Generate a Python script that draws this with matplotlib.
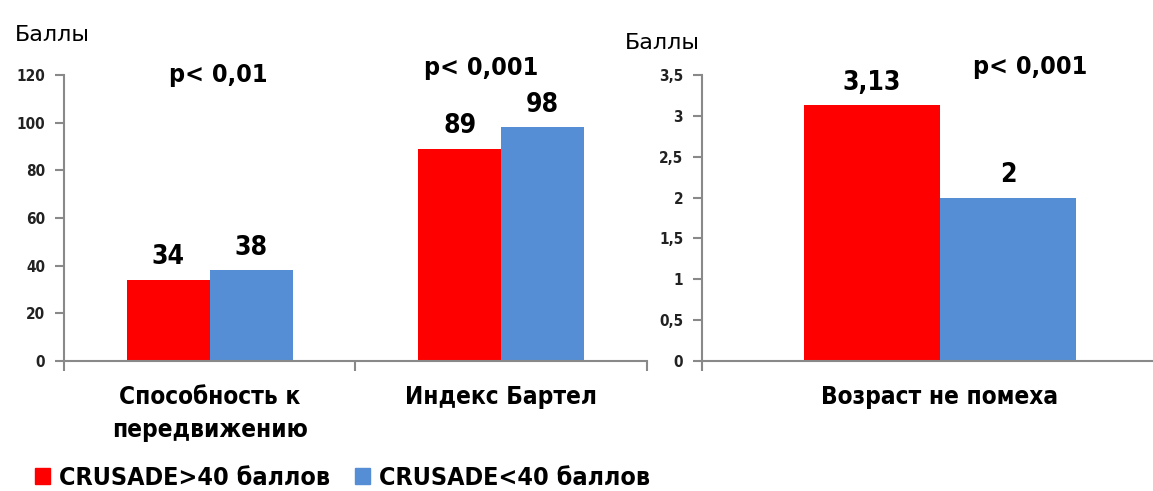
import matplotlib
matplotlib.use("Agg")
import matplotlib.pyplot as plt
from matplotlib import patches as mpatches

RED, BLUE, AXIS = "#FF0000", "#558ED5", "#898989"

plt.rcParams["font.family"] = ["DejaVu Sans"]
plt.rcParams["font.stretch"] = "condensed"

# --- data ---------------------------------------------------------------
left_cats = ["Способность к\nпередвижению", "Индекс Бартел"]
left_high = [34, 89]      # CRUSADE>40
left_low = [38, 98]       # CRUSADE<40
left_p = ["p< 0,01", "p< 0,001"]

right_cats = ["Возраст не помеха"]
right_high = [3.13]
right_low = [2]
right_p = ["p< 0,001"]

series_names = ["CRUSADE>40 баллов", "CRUSADE<40 баллов"]
left_yticks = [0, 20, 40, 60, 80, 100, 120]
right_yticks = [0, 0.5, 1, 1.5, 2, 2.5, 3, 3.5]

W, H = 1153, 491
TOP, BOT = 75, 361
fig = plt.figure(figsize=(W / 100, H / 100), dpi=100)


def fmt(v):
    return f"{v:g}".replace(".", ",")


def style_axes(ax, yticks, ylabels):
    for s in ("top", "right"):
        ax.spines[s].set_visible(False)
    for s in ("left", "bottom"):
        ax.spines[s].set_color(AXIS)
        ax.spines[s].set_linewidth(1.5)
    ax.set_yticks(yticks, ylabels)
    ax.tick_params(axis="y", direction="out", length=6.5, width=1.5,
                   color=AXIS, labelsize=11, labelcolor="#222222", pad=7)
    ax.tick_params(axis="x", which="major", direction="out", length=7,
                   width=1.5, color=AXIS, labelbottom=False)
    ax.tick_params(axis="x", which="minor", length=0, labelsize=17.5, pad=17)
    for lbl in ax.get_xticklabels(minor=True):
        lbl.set_fontweight("bold")
        lbl.set_linespacing(1.5)
    for lbl in ax.get_yticklabels():
        lbl.set_fontweight("bold")


def draw_group(ax, cats, high, low, width):
    x = list(range(len(cats)))
    b1 = ax.bar([i - width / 2 for i in x], high, width, color=RED)
    b2 = ax.bar([i + width / 2 for i in x], low, width, color=BLUE)
    for b, vals in ((b1, high), (b2, low)):
        ax.bar_label(b, labels=[fmt(v) for v in vals], padding=7,
                     fontsize=19, fontweight="bold")
    ax.set_xticks([i + 0.5 for i in range(-1, len(cats))])
    ax.set_xticks(x, cats, minor=True)


# --- left panel ---------------------------------------------------------
ax1 = fig.add_axes([64 / W, 1 - BOT / H, (647 - 64) / W, (BOT - TOP) / H])
draw_group(ax1, left_cats, left_high, left_low, 0.285)
ax1.set_xlim(-0.5, 1.5)
ax1.set_ylim(0, 120)
style_axes(ax1, left_yticks, [str(t) for t in left_yticks])
ax1.text(0.03, 120, left_p[0], ha="center", va="center",
         fontsize=18, fontweight="bold")
ax1.text(0.93, 123, left_p[1], ha="center", va="center",
         fontsize=18, fontweight="bold")
fig.text(15 / W, 1 - 35 / H, "Баллы", fontsize=16, fontstretch="normal",
         va="center")

# --- right panel --------------------------------------------------------
ax2 = fig.add_axes([702 / W, 1 - BOT / H, (1178 - 702) / W, (BOT - TOP) / H])
draw_group(ax2, right_cats, right_high, right_low, 0.286)
ax2.set_xlim(-0.5, 0.5)
ax2.set_ylim(0, 3.5)
style_axes(ax2, right_yticks, [fmt(t) for t in right_yticks])
ax2.text(0.19, 3.6, right_p[0], ha="center", va="center",
         fontsize=18, fontweight="bold")
fig.text(625 / W, 1 - 43 / H, "Баллы", fontsize=16, fontstretch="normal",
         va="center")

# --- legend -------------------------------------------------------------
handles = [mpatches.Patch(color=RED, label=series_names[0]),
           mpatches.Patch(color=BLUE, label=series_names[1])]
fig.legend(handles=handles, loc="center left", bbox_to_anchor=(25 / W, 1 - 478 / H),
           borderaxespad=0, ncol=2, frameon=False, handlelength=0.6,
           handleheight=0.6, handletextpad=0.35, columnspacing=1.0,
           prop={"size": 18, "weight": "bold"})

fig.savefig("out.png", dpi=100)
